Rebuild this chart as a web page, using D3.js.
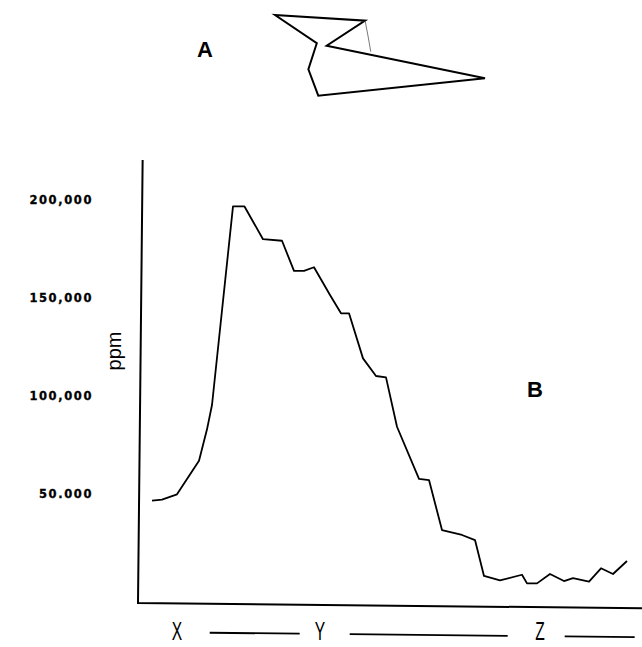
<!DOCTYPE html>
<meta charset="utf-8">
<style>
body { margin: 0; background: white; }
.tick text { font: bold 11.5px "DejaVu Sans"; letter-spacing: 1.6px; fill: #000; stroke: #000; stroke-width: 0.3px; }
.big { font: bold 22px "Liberation Sans"; fill: #000; }
</style>
<script src="https://d3js.org/d3.v7.min.js"></script>
<body>
<div id="chart"></div>
<script>
// position along the traverse (arbitrary units) and concentration (ppm)
var position = [15,25,40,62,70,75,96,107.5,126,145,157,167,177,193,204,212,226,239,249,260,
                282,292,305,325,338,347,363,385,390,400,413,427,436,452,464,476,490];
var ppm = [46600,47100,49850,67000,83000,95400,196700,196700,180000,179200,163800,163800,165700,
           151500,142200,142200,119200,110200,109500,84300,57700,57100,31600,29100,26500,8200,
           5900,8800,4400,4400,9200,5600,7100,5300,12100,9200,15800];
var yTicks = [50000,100000,150000,200000];
var yTickLabels = ["50.000","100,000","150,000","200,000"];
// stations along the traverse and the dashes between them
var stations = ["X","Y","Z"];
var stationPos = [40,183,403];
var dashFrom = [73,213,428];
var dashTo = [163,371,498];
// outline of sample A (unit coords 0-100)
var outlineX = [0,42.9,24.6,100,20.6,15.9,19.9];
var outlineY = [0,7.0,37.9,78.1,99.6,67.0,34.9];
var crackX = [42.9,44.3,45.6];
var crackY = [7.0,25.9,45.3];

var width = 642, height = 647;

var svg = d3.select("#chart")
  .append("svg")
    .attr("width", width)
    .attr("height", height);

// scales
var x = d3.scaleLinear().domain([0, 505]).range([137, 642]);
var y = d3.scaleLinear().domain([50000, 200000]).range([494, 200]);
var ox = d3.scaleLinear().domain([0, 100]).range([275, 485]);
var oy = d3.scaleLinear().domain([0, 100]).range([15, 96]);

// sample outline A
svg.append("path")
  .datum(d3.range(outlineX.length))
  .attr("fill", "none")
  .attr("stroke", "#000")
  .attr("stroke-width", 2)
  .attr("stroke-linejoin", "miter")
  .attr("d", d3.line()
    .x(function(i) { return ox(outlineX[i]) })
    .y(function(i) { return oy(outlineY[i]) })
    .curve(d3.curveLinearClosed));

svg.append("path")
  .datum(d3.range(crackX.length))
  .attr("fill", "none")
  .attr("stroke", "#555")
  .attr("stroke-width", 0.8)
  .attr("d", d3.line()
    .x(function(i) { return ox(crackX[i]) })
    .y(function(i) { return oy(crackY[i]) })
    .curve(d3.curveNatural));

svg.append("text").attr("class", "big").attr("x", 197).attr("y", 57).text("A");
svg.append("text").attr("class", "big").attr("x", 527).attr("y", 397).text("B");

// y tick labels
svg.append("g")
  .attr("transform", "translate(138,0)")
  .call(d3.axisLeft(y).tickValues(yTicks).tickSize(0).tickPadding(45)
    .tickFormat(function(d, i) { return yTickLabels[i]; }))
  .call(function(g) { g.select(".domain").remove(); });

// y label
svg.append("text")
  .attr("transform", "translate(121,351) rotate(-90)")
  .style("text-anchor", "middle")
  .style("font", "20px 'Liberation Sans'")
  .text("ppm");

// frame (scan is slightly tilted)
var frame = svg.append("g").attr("transform", "rotate(0.6,138,603)");

frame.append("path")
  .attr("fill", "none")
  .attr("stroke", "#000")
  .attr("stroke-width", 2)
  .attr("d", d3.line()([[138, 160], [138, 603], [x(505), 603]]));

// stations under the axis
svg.selectAll(".station")
  .data(stations)
  .enter()
  .append("text")
    .attr("class", "station")
    .attr("transform", function(d, i) { return "translate(" + x(stationPos[i]) + ",640) scale(0.6,1)"; })
    .style("text-anchor", "middle")
    .style("font", "26px 'Liberation Sans'")
    .text(function(d) { return d; });

frame.selectAll(".dash")
  .data(dashFrom)
  .enter()
  .append("line")
    .attr("class", "dash")
    .attr("x1", function(d) { return x(d); })
    .attr("x2", function(d, i) { return x(dashTo[i]); })
    .attr("y1", 632)
    .attr("y2", 632)
    .attr("stroke", "#000")
    .attr("stroke-width", 1.8);

// concentration profile
svg.append("path")
  .datum(d3.range(position.length))
  .attr("fill", "none")
  .attr("stroke", "#000")
  .attr("stroke-width", 1.8)
  .attr("stroke-linejoin", "round")
  .attr("d", d3.line()
    .x(function(i) { return x(position[i]) })
    .y(function(i) { return y(ppm[i]) }));
</script>
